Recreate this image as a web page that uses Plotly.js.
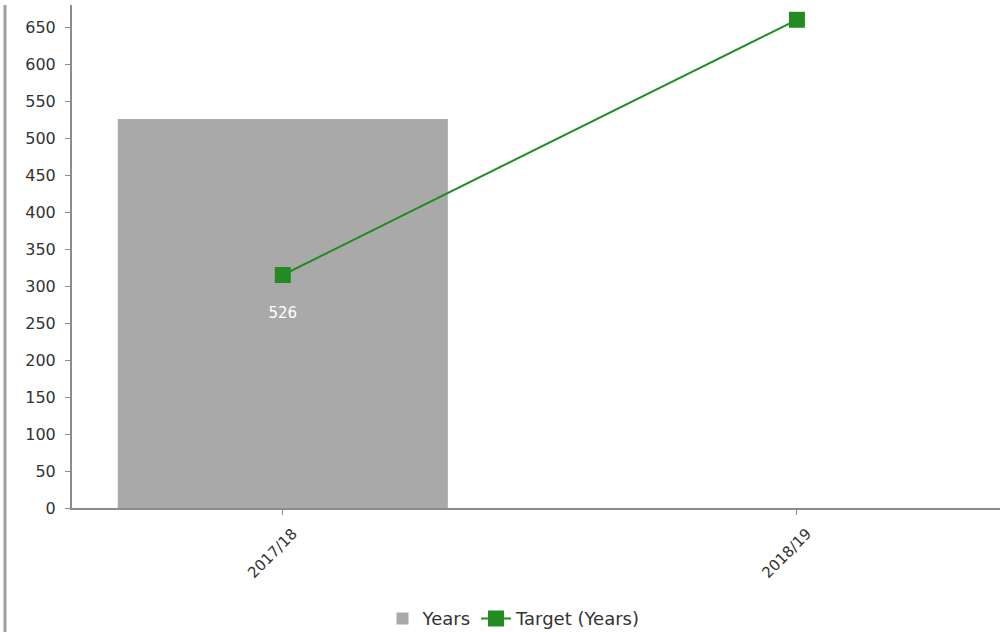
<!DOCTYPE html>
<html>
<head>
<meta charset="utf-8">
<script src="https://cdn.plot.ly/plotly-3.0.1.min.js"></script>
<style>html,body{margin:0;padding:0;background:#fff;}#chart{width:1002px;height:632px;}</style>
</head>
<body>
<div id="chart"></div>
<script>
const categories = ["2017/18", "2018/19"];
const barName = "Years";
const barValues = [526, null];
const lineName = "Target (Years)";
const lineValues = [315, 660];
const yTicks = [0, 50, 100, 150, 200, 250, 300, 350, 400, 450, 500, 550, 600, 650];

const font = "DejaVu Sans, Verdana, sans-serif";

const traces = [
  {
    type: "bar",
    name: barName,
    x: categories,
    y: barValues,
    width: 0.642,
    marker: {color: "#a9a9a9"},
    text: barValues.map(v => v == null ? "" : String(v)),
    textposition: "inside",
    insidetextanchor: "middle",
    textfont: {color: "#ffffff", size: 15, family: font},
    hoverinfo: "none"
  },
  {
    type: "scatter",
    mode: "lines+markers",
    name: lineName,
    x: categories,
    y: lineValues,
    line: {color: "#228b22", width: 2},
    marker: {symbol: "square", size: 16, color: "#228b22"},
    hoverinfo: "none"
  }
];

const layout = {
  width: 1002,
  height: 632,
  margin: {l: 72, r: 2, t: 5, b: 124, autoexpand: false},
  paper_bgcolor: "#ffffff",
  plot_bgcolor: "#ffffff",
  showlegend: true,
  legend: {
    orientation: "h",
    xref: "container", yref: "container",
    x: 0.513, xanchor: "center",
    y: 0.021, yanchor: "middle",
    font: {family: font, size: 18, color: "#333333"},
    itemwidth: 30
  },
  xaxis: {
    type: "category",
    range: [-0.41, 1.395],
    showline: true,
    linecolor: "#8c8c8c",
    linewidth: 2,
    ticks: "outside",
    ticklen: 5,
    tickcolor: "#8c8c8c",
    tickangle: -45,
    ticklabelshift: 10,
    ticklabelstandoff: 4,
    tickfont: {family: font, size: 15, color: "#333333"},
    showgrid: false,
    zeroline: false
  },
  yaxis: {
    range: [0, 680],
    tickvals: yTicks,
    ticktext: yTicks.map(String),
    showline: true,
    linecolor: "#8c8c8c",
    linewidth: 2,
    ticks: "outside",
    ticklen: 5,
    tickcolor: "#8c8c8c",
    ticklabelstandoff: 6,
    tickfont: {family: font, size: 16, color: "#333333"},
    showgrid: false,
    zeroline: false
  },
  shapes: [
    {
      type: "line", xref: "paper", yref: "paper",
      x0: -0.0722, x1: -0.0722, y0: -0.2465, y1: 1.0,
      line: {color: "#a0a0a0", width: 3}
    }
  ]
};

Plotly.newPlot("chart", traces, layout, {displayModeBar: false, staticPlot: true});
</script>
</body>
</html>
